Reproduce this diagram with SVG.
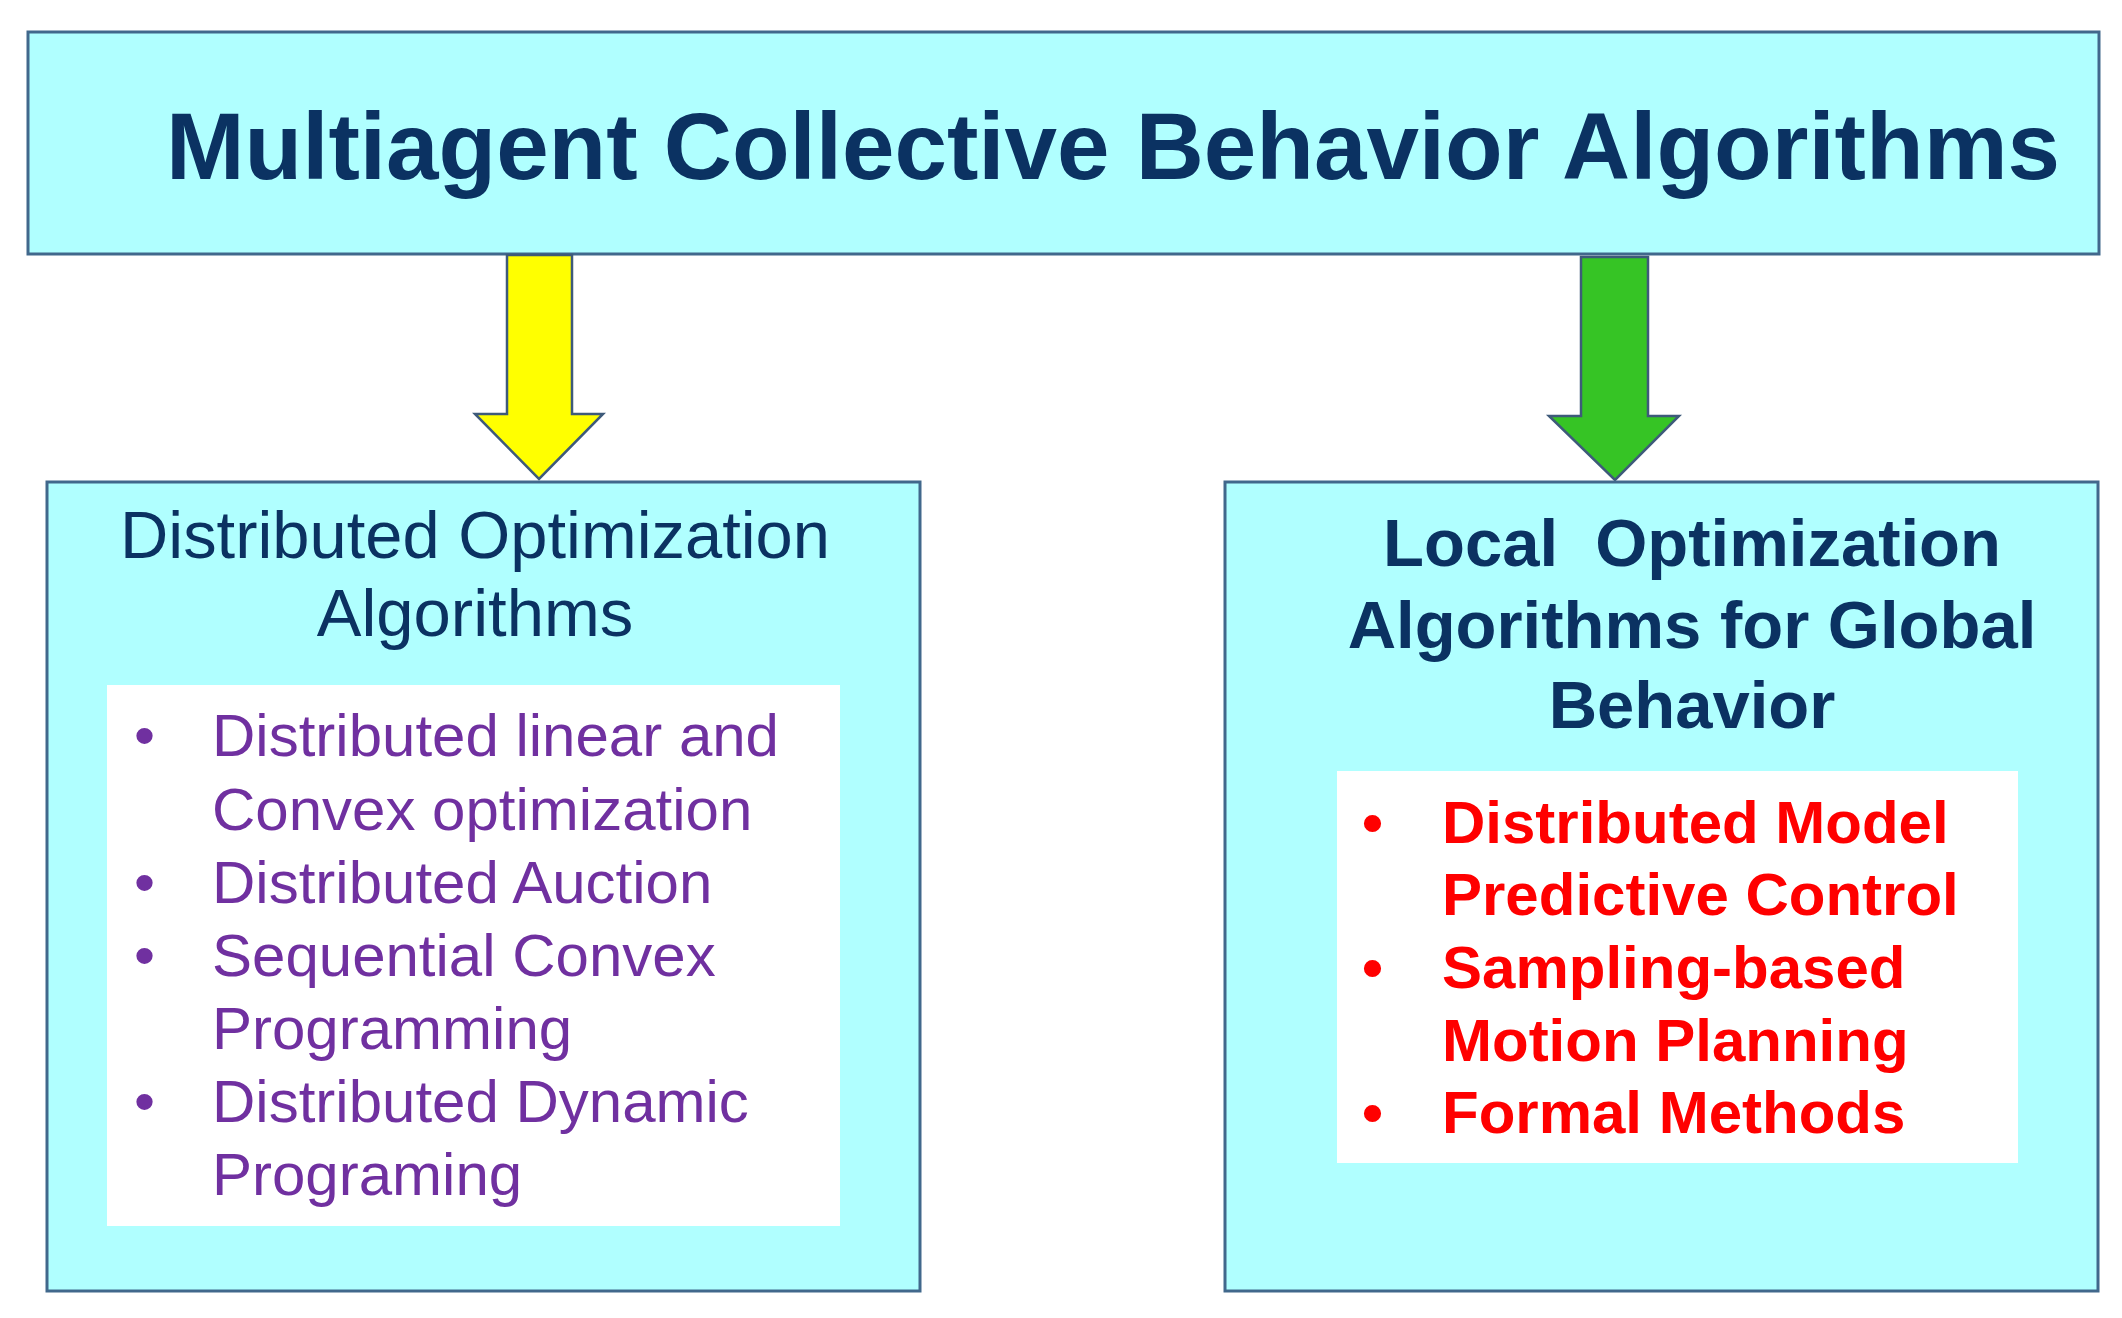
<svg xmlns="http://www.w3.org/2000/svg" width="2122" height="1318" viewBox="0 0 2122 1318">
<style>
.box{fill:#b0ffff;stroke:#41688c;stroke-width:3}
.inner{fill:#ffffff}
.title{font-family:"Liberation Sans",Arial,sans-serif;fill:#0b3262}
.purple{font-family:"Liberation Sans",Arial,sans-serif;font-size:60px;fill:#7030a0}
.red{font-family:"Liberation Sans",Arial,sans-serif;font-size:60px;font-weight:bold;fill:#ff0000}
.arrow{stroke:#3e5a7a;stroke-width:2.5;stroke-linejoin:miter}
</style>
<rect width="2122" height="1318" fill="#ffffff"/>
<g id="top">
<rect class="box" x="28" y="32" width="2071" height="222"/>
<text class="title" x="166" y="179" font-size="95" font-weight="bold" textLength="1894" lengthAdjust="spacingAndGlyphs">Multiagent Collective Behavior Algorithms</text>
</g>
<g id="connectors">
<polygon class="arrow" fill="#ffff00" points="507,255 572,255 572,414 603,414 539,479 475,414 507,414"/>
<polygon class="arrow" fill="#36c425" points="1581,257 1648,257 1648,416 1679,416 1615,480 1549,416 1581,416"/>
</g>
<g id="left">
<rect class="box" x="47" y="482" width="873" height="809"/>
<text class="title" font-size="67" text-anchor="middle"><tspan x="475" y="558" textLength="710" lengthAdjust="spacingAndGlyphs">Distributed Optimization</tspan><tspan x="475" y="636">Algorithms</tspan></text>
<rect class="inner" x="107" y="685" width="733" height="541"/>
<text class="purple"><tspan x="134" y="756">•</tspan><tspan x="134" y="903">•</tspan><tspan x="134" y="976">•</tspan><tspan x="134" y="1122">•</tspan></text>
<text class="purple"><tspan x="212" y="756">Distributed linear and</tspan><tspan x="212" y="830">Convex optimization</tspan><tspan x="212" y="903">Distributed Auction</tspan><tspan x="212" y="976">Sequential Convex</tspan><tspan x="212" y="1049">Programming</tspan><tspan x="212" y="1122">Distributed Dynamic</tspan><tspan x="212" y="1195">Programing</tspan></text>
</g>
<g id="right">
<rect class="box" x="1225" y="482" width="873" height="809"/>
<text class="title" font-size="67" font-weight="bold" text-anchor="middle" xml:space="preserve"><tspan x="1692" y="566">Local  Optimization</tspan><tspan x="1692" y="648">Algorithms for Global</tspan><tspan x="1692" y="728">Behavior</tspan></text>
<rect class="inner" x="1337" y="771" width="681" height="392"/>
<text class="red"><tspan x="1362" y="843">•</tspan><tspan x="1362" y="988">•</tspan><tspan x="1362" y="1133">•</tspan></text>
<text class="red"><tspan x="1442" y="843">Distributed Model</tspan><tspan x="1442" y="915">Predictive Control</tspan><tspan x="1442" y="988">Sampling-based</tspan><tspan x="1442" y="1061">Motion Planning</tspan><tspan x="1442" y="1133">Formal Methods</tspan></text>
</g>
</svg>
